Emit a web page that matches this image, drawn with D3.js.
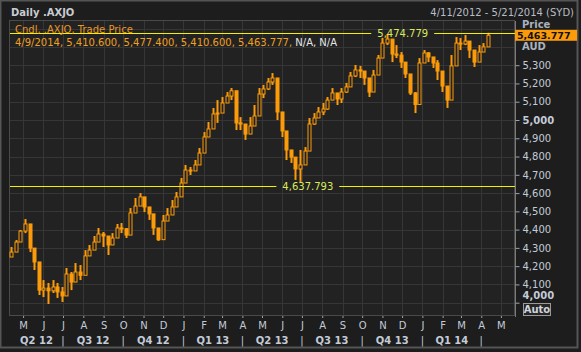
<!DOCTYPE html>
<html>
<head>
<meta charset="utf-8">
<script src="https://cdn.jsdelivr.net/npm/d3@7"></script>
<style>
  body { margin: 0; background: #1d1d1d; }
  svg text { font-family: "DejaVu Sans", Verdana, sans-serif; }
</style>
</head>
<body>
<svg id="chart" width="581" height="352"></svg>
<script>
// weekly candles (first week ending 13 Apr 2012)
const startDate = new Date(2012, 3, 13);
const firstOpen = 4250;
const closes = [
  4277, 4332, 4392, 4431, 4299, 4223, 4069, 4080, 4065, 4086,
  4059, 4037, 4157, 4113, 4168, 4150, 4256, 4288, 4332, 4376,
  4365, 4316, 4354, 4409, 4405, 4370, 4491, 4529, 4579, 4524,
  4486, 4409, 4345, 4447, 4480, 4524, 4579, 4655, 4726, 4721,
  4754, 4819, 4907, 4951, 5033, 5038, 5093, 5131, 5160, 4984,
  4978, 4923, 4967, 5022, 5142, 5170, 5208, 5230, 5044, 4940,
  4836, 4797, 4732, 4754, 4830, 4978, 5011, 5044, 5060, 5109,
  5148, 5115, 5153, 5181, 5241, 5274, 5268, 5230, 5153, 5246,
  5339, 5421, 5443, 5361, 5355, 5317, 5252, 5148, 5085, 5312,
  5367, 5345, 5312, 5268, 5186, 5109, 5296, 5421, 5416, 5432,
  5383, 5317, 5372, 5400, 5463.777
];
const highs = [
  4305, 4343, 4398, 4458, 4343, 4288, 4124, 4124, 4108, 4124,
  4108, 4086, 4190, 4168, 4217, 4206, 4288, 4316, 4365, 4409,
  4387, 4354, 4381, 4431, 4436, 4409, 4518, 4573, 4600, 4562,
  4524, 4453, 4409, 4480, 4518, 4562, 4606, 4683, 4754, 4743,
  4781, 4847, 4934, 4989, 5066, 5109, 5126, 5153, 5175, 5027,
  5016, 4962, 5016, 5082, 5175, 5192, 5230, 5257, 5137, 4984,
  4874, 4836, 4792, 4836, 4852, 5011, 5038, 5071, 5093, 5126,
  5175, 5148, 5175, 5203, 5263, 5301, 5296, 5257, 5219, 5274,
  5356, 5449, 5471, 5438, 5410, 5372, 5317, 5246, 5153, 5339,
  5383, 5372, 5339, 5328, 5263, 5175, 5356, 5454, 5449, 5465,
  5410, 5372, 5410, 5421, 5477.4
];
const lows = [
  4250, 4300, 4354, 4381, 4277, 4179, 4042, 4031, 3993, 4053,
  4026, 4004, 4113, 4069, 4113, 4124, 4223, 4256, 4288, 4332,
  4305, 4261, 4332, 4376, 4381, 4354, 4409, 4496, 4535, 4496,
  4453, 4371, 4338, 4409, 4453, 4496, 4535, 4617, 4699, 4699,
  4726, 4781, 4880, 4918, 5000, 4984, 5055, 5093, 5109, 4945,
  4945, 4891, 4934, 4984, 5109, 5120, 5164, 5192, 5000, 4907,
  4781, 4765, 4672, 4661, 4797, 4902, 4973, 5016, 5027, 5055,
  5109, 5082, 5093, 5148, 5219, 5235, 5230, 5192, 5126, 5203,
  5274, 5372, 5410, 5317, 5339, 5285, 5230, 5137, 5038, 5246,
  5339, 5317, 5285, 5219, 5153, 5066, 5246, 5394, 5383, 5410,
  5339, 5290, 5339, 5383, 5410.6
];

const yTicks = [4000, 4100, 4200, 4300, 4400, 4500, 4600, 4700, 4800, 4900, 5000, 5100, 5200, 5300];
const gridTicks = yTicks.concat([5400, 5500]);
const boldTicks = [4000, 5000];
const monthLetters = ['J', 'F', 'M', 'A', 'M', 'J', 'J', 'A', 'S', 'O', 'N', 'D'];

const markers = [
  {value: 5474.779, label: '5,474.779', at: new Date(2013, 11, 2)},
  {value: 4637.793, label: '4,637.793', at: new Date(2013, 6, 10)}
];
const lastPrice = 5463.777;
const infoValues = '4/9/2014, 5,410.600, 5,477.400, 5,410.600, 5,463.777, ';
const infoNA = 'N/A, N/A';

const W = 581, H = 352;
const plot = {left: 10, top: 21, right: 514, bottom: 315};

const orange = '#fb9b0b';
const axisText = '#c3cbd8';
const gridColor = '#363636';
const plotBg = '#222222';

const svg = d3.select('#chart');

// window frame
svg.append('rect')
  .attr('x', 0.5).attr('y', 0.5)
  .attr('width', W - 4).attr('height', H - 5)
  .attr('fill', '#1d1d1d')
  .attr('stroke', '#555').attr('stroke-width', 2);

svg.append('rect')
  .attr('x', plot.left).attr('y', plot.top)
  .attr('width', plot.right - plot.left).attr('height', plot.bottom - plot.top)
  .attr('fill', plotBg);

// scales
const x = d3.scaleTime()
  .domain([new Date(2012, 3, 11), new Date(2014, 4, 21)])
  .range([plot.left, plot.right]);

const y = d3.scaleLinear()
  .domain([4000, 5000])
  .range([302.7, 120]);

// grid
const months = d3.timeMonth.range(new Date(2012, 4, 1), new Date(2014, 4, 21));

svg.append('g').selectAll('line')
  .data(gridTicks)
  .join('line')
  .attr('x1', plot.left).attr('x2', plot.right)
  .attr('y1', d => Math.round(y(d)) + 0.5).attr('y2', d => Math.round(y(d)) + 0.5)
  .attr('stroke', gridColor);

svg.append('g').selectAll('line')
  .data(months)
  .join('line')
  .attr('x1', d => Math.round(x(d)) + 0.5).attr('x2', d => Math.round(x(d)) + 0.5)
  .attr('y1', plot.top).attr('y2', plot.bottom)
  .attr('stroke', gridColor);

svg.append('rect')
  .attr('x', plot.left - 0.5).attr('y', plot.top - 0.5)
  .attr('width', plot.right - plot.left + 1).attr('height', plot.bottom - plot.top + 1)
  .attr('fill', 'none')
  .attr('stroke', '#4a4a4a');

// candles
const candles = closes.map((c, i) => ({
  date: d3.timeDay.offset(startDate, 7 * i),
  open: i === 0 ? firstOpen : closes[i - 1],
  high: highs[i],
  low: lows[i],
  close: c
}));

const bw = 3;
const candleG = svg.append('g');

candleG.selectAll('line')
  .data(candles)
  .join('line')
  .attr('x1', d => Math.round(x(d.date)) + 0.5)
  .attr('x2', d => Math.round(x(d.date)) + 0.5)
  .attr('y1', d => y(d.high))
  .attr('y2', d => y(d.low))
  .attr('stroke', orange)
  .attr('stroke-width', 2);

candleG.selectAll('rect')
  .data(candles)
  .join('rect')
  .attr('x', d => Math.round(x(d.date)) + 0.5 - bw / 2)
  .attr('y', d => y(Math.max(d.open, d.close)))
  .attr('width', bw)
  .attr('height', d => Math.max(1, Math.abs(y(d.open) - y(d.close))))
  .attr('fill', d => d.close >= d.open ? plotBg : orange)
  .attr('stroke', orange)
  .attr('stroke-width', 1);

// high / low marker lines
markers.forEach(m => {
  const yy = Math.round(y(m.value)) + 0.5;
  const cx = x(m.at);
  const t = svg.append('text')
    .attr('x', cx).attr('y', yy + 3.5)
    .attr('text-anchor', 'middle')
    .attr('font-size', 10)
    .attr('fill', '#dbe85a')
    .text(m.label);
  const half = t.node().getComputedTextLength() / 2 + 6;
  svg.append('line')
    .attr('x1', plot.left).attr('x2', cx - half)
    .attr('y1', yy).attr('y2', yy)
    .attr('stroke', '#f5f000');
  svg.append('line')
    .attr('x1', cx + half).attr('x2', plot.right + 1)
    .attr('y1', yy).attr('y2', yy)
    .attr('stroke', '#f5f000');
});

// legend text
svg.append('text')
  .attr('x', 15).attr('y', 32.5)
  .attr('font-size', 10)
  .attr('fill', '#e8962a')
  .text('Cndl, .AXJO, Trade Price');

const info = svg.append('text')
  .attr('x', 15).attr('y', 46)
  .attr('font-size', 10)
  .attr('fill', '#f0a020');
info.append('tspan').text(infoValues);
info.append('tspan').attr('fill', '#e6e6e6').text(infoNA);

// title + range
svg.append('text')
  .attr('x', 11).attr('y', 16)
  .attr('font-size', 10).attr('font-weight', 'bold')
  .attr('fill', '#c8ccd2')
  .text('Daily .AXJO');

svg.append('text')
  .attr('x', 574).attr('y', 16)
  .attr('text-anchor', 'end')
  .attr('font-size', 10)
  .attr('fill', '#b8bcc4')
  .text('4/11/2012 - 5/21/2014 (SYD)');

// y axis (right)
const yAxis = d3.axisRight(y)
  .tickValues(yTicks)
  .tickFormat(d3.format(','))
  .tickSize(4)
  .tickPadding(3);

const yAxisG = svg.append('g')
  .attr('transform', `translate(${plot.right + 1.5},0)`)
  .call(yAxis);

yAxisG.select('.domain')
  .attr('stroke', '#7a7a7a')
  .attr('d', `M0,${plot.top}V${plot.bottom + 2}`);
yAxisG.selectAll('.tick line').attr('stroke', '#9aa2ae');
yAxisG.selectAll('.tick text')
  .attr('font-family', null)
  .attr('font-size', 10)
  .attr('fill', axisText)
  .attr('font-weight', d => boldTicks.includes(d) ? 'bold' : null)
  .attr('dy', d => d === 4000 ? '-0.4em' : '0.32em');

svg.append('text')
  .attr('x', 522).attr('y', 28)
  .attr('font-size', 10).attr('font-weight', 'bold')
  .attr('fill', '#aab2be')
  .text('Price');
svg.append('text')
  .attr('x', 522).attr('y', 49.5)
  .attr('font-size', 10).attr('font-weight', 'bold')
  .attr('fill', '#aab2be')
  .text('AUD');

// last price box
const ly = y(lastPrice);
svg.append('rect')
  .attr('x', 515).attr('y', ly - 5.5)
  .attr('width', 62).attr('height', 11)
  .attr('fill', orange);
svg.append('text')
  .attr('x', 517).attr('y', ly + 4)
  .attr('font-size', 9.5).attr('font-weight', 'bold')
  .attr('fill', '#111')
  .text(d3.format(',.3f')(lastPrice));

// Auto button
svg.append('rect')
  .attr('x', 523.5).attr('y', 303.5)
  .attr('width', 27).attr('height', 12)
  .attr('fill', '#262626')
  .attr('stroke', '#9a9a9a');
svg.append('text')
  .attr('x', 537).attr('y', 313)
  .attr('text-anchor', 'middle')
  .attr('font-size', 10).attr('font-weight', 'bold')
  .attr('fill', '#d0d4da')
  .text('Auto');

// x axis: months
const xAxis = d3.axisBottom(x)
  .tickValues(months)
  .tickFormat(d => monthLetters[d.getMonth()])
  .tickSize(3)
  .tickPadding(4);

const xAxisG = svg.append('g')
  .attr('transform', `translate(0,${plot.bottom})`)
  .call(xAxis);
xAxisG.select('.domain').remove();
xAxisG.selectAll('.tick line').attr('stroke', '#9aa2ae').attr('y1', 1);
xAxisG.selectAll('.tick text')
  .attr('font-family', null)
  .attr('font-size', 10)
  .attr('fill', axisText);

// quarters
const quarters = d3.timeMonth.every(3).range(new Date(2012, 3, 1), new Date(2014, 6, 1));
const [d0, d1] = x.domain();
quarters.forEach(q => {
  const qEnd = d3.timeMonth.offset(q, 3);
  const a = x(q < d0 ? d0 : q);
  const b = x(qEnd > d1 ? d1 : qEnd);
  if (q > d0) {
    svg.append('text')
      .attr('x', x(q)).attr('y', 344)
      .attr('text-anchor', 'middle')
      .attr('font-size', 10)
      .attr('fill', axisText)
      .text('|');
  }
  if (b - a > 40) {
    svg.append('text')
      .attr('x', (a + b) / 2).attr('y', 344)
      .attr('text-anchor', 'middle')
      .attr('font-size', 10).attr('font-weight', 'bold')
      .attr('fill', axisText)
      .text(`Q${Math.floor(q.getMonth() / 3) + 1} ${String(q.getFullYear()).slice(2)}`);
  }
});
</script>
</body>
</html>
